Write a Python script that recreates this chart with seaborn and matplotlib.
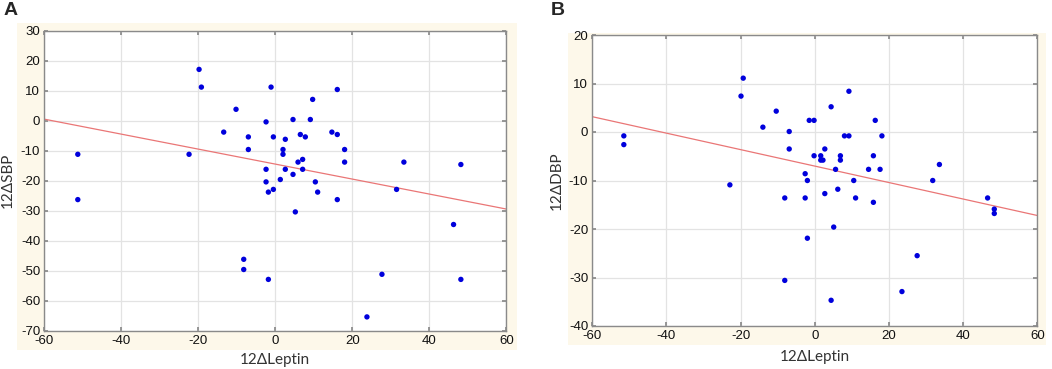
import numpy as np
import pandas as pd
import matplotlib
matplotlib.use("Agg")
import matplotlib.pyplot as plt
import seaborn as sns
from matplotlib.patches import Rectangle
from matplotlib.transforms import blended_transform_factory

# Panel A data
leptin_a = [-51.3, -51.3, -22.4, -19.8, -19.2, -10.2, -13.4, -7.0, -7.0, -8.2, -8.2, -1.8,
            -2.4, -1.1, -0.5, -2.4, -2.4, -1.8, -0.5, 1.3, 2.0, 2.0, 2.6, 2.6, 4.6, 4.6,
            5.2, 5.9, 6.5, 7.1, 7.1, 7.8, 9.1, 9.7, 10.4, 11.0, 14.7, 16.1, 16.1, 16.1,
            18.0, 18.0, 23.8, 27.7, 31.5, 33.4, 46.3, 48.2, 48.2]
sbp = [-11.2, -26.3, -11.2, 17.1, 11.2, 3.8, -3.8, -5.4, -9.6, -46.2, -49.6, -52.9,
       -0.4, 11.2, -5.4, -16.2, -20.4, -23.8, -22.9, -19.6, -9.6, -11.2, -6.2, -16.2, 0.4, -17.9,
       -30.4, -13.8, -4.6, -12.9, -16.2, -5.4, 0.4, 7.1, -20.4, -23.8, -3.8, 10.4, -4.6, -26.3,
       -9.6, -13.8, -65.4, -51.2, -22.9, -13.8, -34.6, -14.6, -52.9]

# Panel B data
leptin_b = [-51.5, -51.5, -22.9, -19.9, -19.3, -14.0, -10.4, -6.9, -6.9, -8.1, -8.1, -2.6,
            -2.0, -2.6, -2.0, -1.5, -0.2, -0.2, 1.6, 1.6, 2.2, 2.7, 2.7, 4.4, 5.1, 4.4,
            5.6, 6.2, 6.9, 6.9, 8.0, 9.2, 9.2, 10.5, 11.0, 14.5, 15.8, 15.8, 16.3, 17.6,
            18.1, 23.5, 27.6, 31.8, 33.6, 46.6, 48.4, 48.4]
dbp = [-0.8, -2.6, -10.9, 7.4, 11.1, 1.0, 4.3, 0.1, -3.5, -13.6, -30.6, -8.6,
       -10.0, -13.6, -21.9, 2.4, 2.4, -4.9, -4.9, -5.8, -5.8, -3.5, -12.7, 5.2, -19.6, -34.7,
       -7.7, -11.8, -4.9, -5.8, -0.8, -0.8, 8.4, -10.0, -13.6, -7.7, -4.9, -14.5, 2.4, -7.7,
       -0.8, -32.9, -25.5, -10.0, -6.7, -13.6, -15.9, -16.8]

df_a = pd.DataFrame({"x": leptin_a, "y": sbp})
df_b = pd.DataFrame({"x": leptin_b, "y": dbp})

sns.set_theme(style="white")
plt.rcParams['font.family'] = ['Liberation Sans', 'DejaVu Sans']
plt.rcParams['axes.unicode_minus'] = False

W, H = 1052, 369
fig = plt.figure(figsize=(W / 100, H / 100), dpi=100)
fig.patch.set_facecolor("white")

cream = "#fdf8ea"
fig.patches.append(Rectangle((17 / W, 1 - 350 / H), (517 - 17) / W, (350 - 23) / H,
                             transform=fig.transFigure, facecolor=cream, edgecolor="none", zorder=-5))
fig.patches.append(Rectangle((568 / W, 1 - 345 / H), (1046 - 568) / W, (345 - 33) / H,
                             transform=fig.transFigure, facecolor=cream, edgecolor="none", zorder=-5))


def ax_rect(l, r, t, b):
    return [l / W, 1 - b / H, (r - l) / W, (b - t) / H]


ax1 = fig.add_axes(ax_rect(44.3, 506.3, 30.7, 330.7))
ax2 = fig.add_axes(ax_rect(592.3, 1037.3, 35, 326))

specs = [
    (ax1, df_a, (-70, 30), np.arange(-70, 31, 10), "12\u0394SBP", 8, 360),
    (ax2, df_b, (-40, 20), np.arange(-40, 21, 10), "12\u0394DBP", 557, 357),
]

label_font = ['Lato', 'DejaVu Sans']

for ax, df, ylim, yticks, ylab, ylx, xly in specs:
    ax.set_facecolor("white")
    ax.set_xlim(-60, 60)
    ax.set_ylim(*ylim)
    sns.regplot(data=df, x="x", y="y", ax=ax, ci=None, truncate=False,
                scatter_kws=dict(s=15, color="#0000dc", edgecolor="none", alpha=1, zorder=3),
                line_kws=dict(color="#ea7676", lw=0.9, zorder=2))
    ax.set_xlim(-60, 60)
    ax.set_ylim(*ylim)
    ax.set_xticks(np.arange(-60, 61, 20))
    ax.set_yticks(yticks)
    ax.grid(True, color="#e3e3e3", lw=0.9)
    ax.set_axisbelow(True)
    for s in ax.spines.values():
        s.set_visible(True)
        s.set_color("#8a8a8a")
        s.set_linewidth(1.0)
    ax.tick_params(direction="in", length=3, color="#8a8a8a", top=True, right=True,
                   bottom=True, left=True, labelsize=9.5, labelcolor="#111111", pad=3)
    ax.set_xlabel("12\u0394Leptin", fontsize=11, color="#333333", family=label_font)
    ax.set_ylabel(ylab, fontsize=11, color="#333333", family=label_font)
    ax.yaxis.set_label_coords(ylx / W, 0.5,
                              transform=blended_transform_factory(fig.transFigure, ax.transAxes))
    ax.xaxis.set_label_coords(0.5, 1 - xly / H,
                              transform=blended_transform_factory(ax.transAxes, fig.transFigure))
    ax.yaxis.label.set_va("center")
    ax.xaxis.label.set_va("center")

fig.text(4 / W, 1 - 2 / H, "A", fontsize=14, fontweight="bold", va="top", ha="left")
fig.text(551 / W, 1 - 2 / H, "B", fontsize=14, fontweight="bold", va="top", ha="left")

fig.savefig("out.png", dpi=100)
